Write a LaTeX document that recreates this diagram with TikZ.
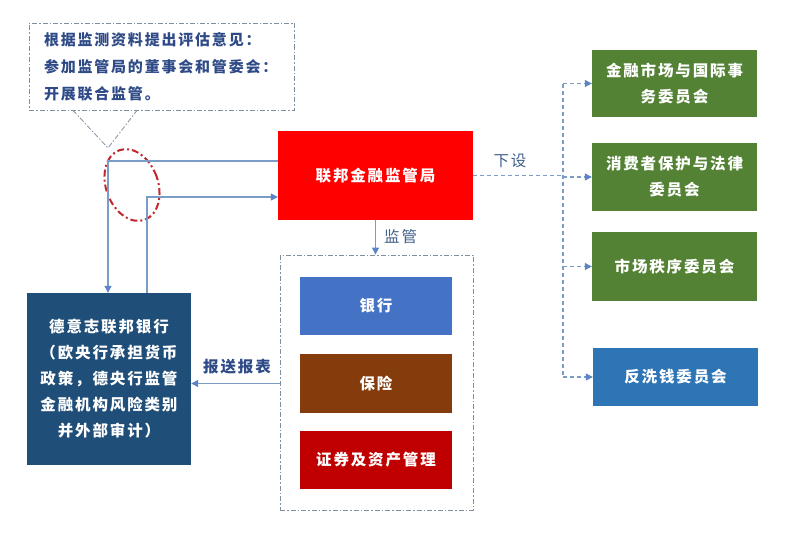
\documentclass[tikz,border=0pt]{standalone}
\usepackage{fontspec}
\setmainfont{Noto Sans CJK SC}[LetterSpace=12]
\usetikzlibrary{arrows.meta,shapes.geometric}
\definecolor{navyC}{HTML}{1F4E79}
\definecolor{redC}{HTML}{FF0000}
\definecolor{greenC}{HTML}{548235}
\definecolor{blueC}{HTML}{2E75B6}
\definecolor{bankC}{HTML}{4472C4}
\definecolor{brownC}{HTML}{843C0C}
\definecolor{darkredC}{HTML}{C00000}
\definecolor{lineC}{HTML}{7A9CC6}
\definecolor{tipC}{HTML}{5B84C4}
\definecolor{noteC}{HTML}{2E4A87}
\definecolor{lblC}{HTML}{3F5F8A}
\definecolor{grayC}{HTML}{8090A0}
\definecolor{ovalC}{HTML}{C0282D}
\begin{document}
\begin{tikzpicture}[x=1pt,y=-1pt,
  box/.style={draw=none, text=white, font=\bfseries\fontsize{15.5}{26}\selectfont, align=center, inner sep=0pt},
  conn/.style={draw=lineC, line width=1.1pt},
  arr/.style={-{Triangle[width=7pt,length=7pt,color=tipC]}},
  dd/.style={dash pattern=on 5pt off 2pt on 1.5pt off 2pt},
  lbl/.style={text=lblC, font=\fontsize{15.5}{17}\selectfont, inner sep=0pt}]
\useasboundingbox (0,0) rectangle (786,535);

% callout
\node[draw=grayC, line width=0.8pt, dd, minimum width=265pt, minimum height=87pt,
      text width=235pt, align=left, inner sep=0pt, text=noteC,
      font=\bfseries\fontsize{15}{27}\selectfont] (note) at (161.5,66.5)
  {根据监测资料提出评估意见：\\参加监管局的董事会和管委会：\\开展联合监管。};
\coordinate (tip) at (108,148);
\draw[draw=grayC, line width=0.8pt, dd] (note.south -| 73,0) -- (tip) -- (note.south -| 137,0);

% main boxes
\node[box, fill=redC, minimum width=195pt, minimum height=89pt] (red) at (375.5,175.5) {联邦金融监管局};
\node[box, fill=navyC, minimum width=164pt, minimum height=172pt] (bb) at (109,379)
  {德意志联邦银行\\（欧央行承担货币\\政策，德央行监管\\金融机构风险类别\\并外部审计）};

% container
\node[draw=grayC, line width=0.8pt, dd, minimum width=193pt, minimum height=255pt, inner sep=0pt] (cont) at (376.5,382.5) {};
\node[box, fill=bankC, minimum width=152pt, minimum height=58pt] (bank) at (376,306) {银行};
\node[box, fill=brownC, minimum width=152pt, minimum height=59pt] (ins) at (376,383.5) {保险};
\node[box, fill=darkredC, minimum width=152pt, minimum height=58pt] (sec) at (376,460) {证券及资产管理};

% committees
\node[box, fill=greenC, minimum width=165pt, minimum height=67pt] (g1) at (674.5,83.5) {金融市场与国际事\\务委员会};
\node[box, fill=greenC, minimum width=165pt, minimum height=68pt] (g2) at (674.5,177) {消费者保护与法律\\委员会};
\node[box, fill=greenC, minimum width=165pt, minimum height=69pt] (g3) at (674.5,266.5) {市场秩序委员会};
\node[box, fill=blueC, minimum width=165pt, minimum height=58pt] (g4) at (675.5,377) {反洗钱委员会};

% highlight oval
\node[draw=ovalC, line width=2pt, dash pattern=on 7pt off 3pt on 2pt off 3pt, ellipse,
      minimum width=52pt, minimum height=74pt, inner sep=0pt, rotate=20] (hl) at (132,185) {};

% connectors between bundesbank and BaFin
\coordinate (b1) at (108,161);
\coordinate (b2) at (147,197);
\draw[conn, arr] (red.west |- b1) -| (bb.north -| b1);
\draw[conn, arr] (bb.north -| b2) |- (red.west |- b2);

% supervision
\draw[conn, arr] (red.south) -- (red.south |- cont.north);
\node[lbl, anchor=west] (lsup) at (384,237) {监管};

% report
\draw[conn, arr] (cont.west |- ins) -- (bb.east |- ins);
\node[lbl, text=noteC, font=\bfseries\fontsize{15.5}{17}\selectfont] (lrep) at (237,367) {报送报表};

% sub-committees
\coordinate (trunk) at (563,0);
\draw[conn, dashed, dash pattern=on 4pt off 3pt] (red.east) -- (red.east -| trunk);
\draw[conn, dashed, dash pattern=on 4pt off 3pt] (trunk |- g1) -- (trunk |- g4);
\foreach \g in {g1,g2,g3,g4}
  \draw[conn, dashed, dash pattern=on 4pt off 3pt, arr] (trunk |- \g) -- (\g.west);
\node[lbl] (lsub) at (510,161) {下设};
\end{tikzpicture}
\end{document}
